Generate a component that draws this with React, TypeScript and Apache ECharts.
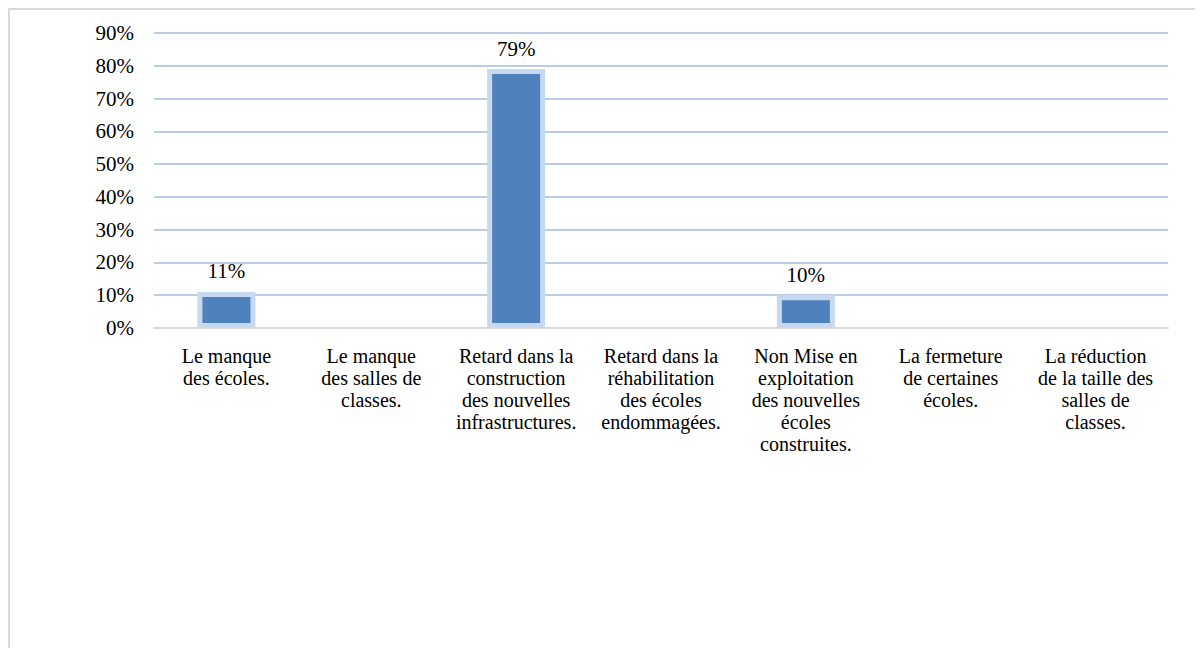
import React, { useEffect, useRef } from "react";
import * as echarts from "echarts";

const categories = [
  "Le manque\ndes écoles.",
  "Le manque\ndes salles de\nclasses.",
  "Retard dans la\nconstruction\ndes nouvelles\ninfrastructures.",
  "Retard dans la\nréhabilitation\ndes écoles\nendommagées.",
  "Non Mise en\nexploitation\ndes nouvelles\nécoles\nconstruites.",
  "La fermeture\nde certaines\nécoles.",
  "La réduction\nde la taille des\nsalles de\nclasses.",
];
const values = [11, 0, 79, 0, 10, 0, 0];
const yTicks = { min: 0, max: 90, interval: 10 };

export default function App() {
  const ref = useRef<HTMLDivElement>(null);
  useEffect(() => {
    if (!ref.current) return;
    const chart = echarts.init(ref.current, null, { renderer: "svg" });
    const font = "Liberation Serif";
    chart.setOption({
      animation: false,
      grid: { left: 144, top: 23, height: 295, right: 35 },
      xAxis: {
        type: "category",
        data: categories,
        axisTick: { show: false },
        axisLine: { lineStyle: { color: "#D9D9D9", width: 2 } },
        axisLabel: {
          interval: 0,
          color: "#000",
          fontFamily: font,
          fontSize: 20,
          lineHeight: 22,
          margin: 17,
          align: "center",
        },
      },
      yAxis: {
        type: "value",
        min: yTicks.min,
        max: yTicks.max,
        interval: yTicks.interval,
        axisLine: { show: false },
        axisTick: { show: false },
        splitLine: { lineStyle: { color: "#B9CDE5", width: 2 } },
        axisLabel: {
          formatter: "{value}%",
          color: "#000",
          fontFamily: font,
          fontSize: 21,
          margin: 20,
        },
      },
      series: [
        {
          type: "bar",
          barWidth: 58,
          data: values.map((v) =>
            v === 0
              ? { value: v, itemStyle: { borderWidth: 0 }, label: { show: false } }
              : { value: v }
          ),
          itemStyle: {
            color: "#4F81BD",
            borderColor: "#C6D9F1",
            borderWidth: 5,
          },
          label: {
            show: true,
            position: "top",
            distance: 10,
            formatter: "{c}%",
            color: "#000",
            fontFamily: font,
            fontSize: 21,
          },
        },
      ],
    });
    return () => chart.dispose();
  }, []);
  return (
    <div
      style={{
        width: 1195,
        height: 640,
        borderTop: "2px solid #D9D9D9",
        borderLeft: "2px solid #D9D9D9",
        boxSizing: "border-box",
      }}
    >
      <div ref={ref} style={{ width: 1193, height: 638 }} />
    </div>
  );
}
